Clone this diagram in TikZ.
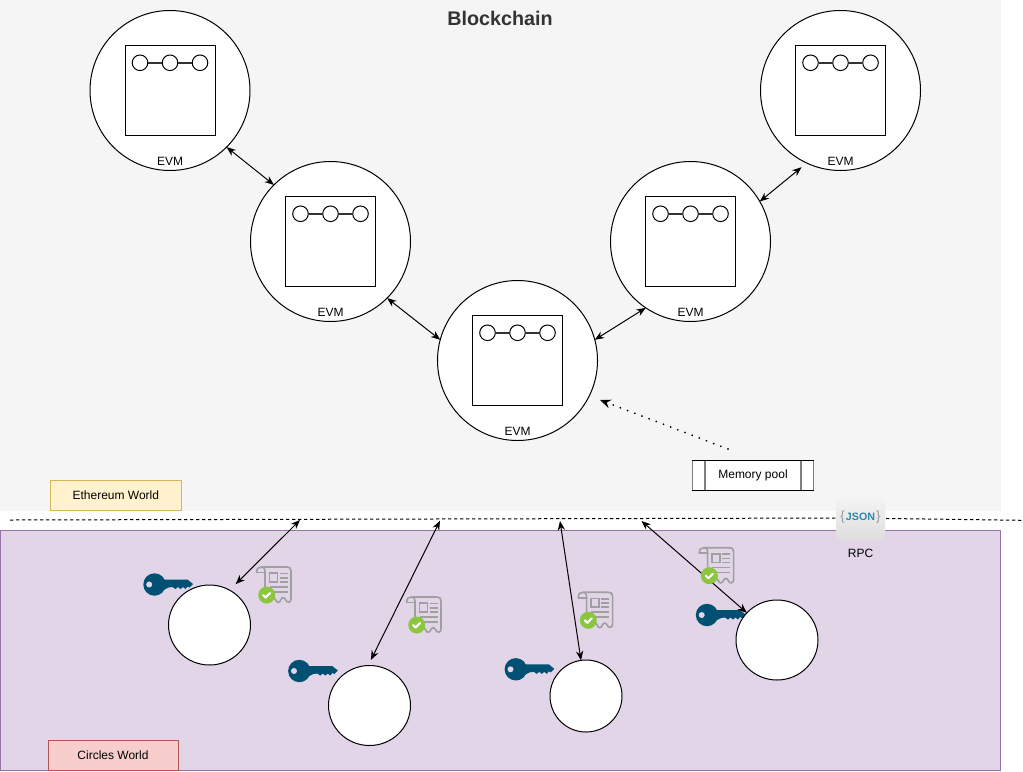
\documentclass[tikz,border=0pt]{standalone}
\usepackage{fontspec}
\setmainfont{Liberation Sans}
\usetikzlibrary{arrows.meta,shadings,shapes.geometric}
\definecolor{chainbg}{HTML}{F5F5F5}
\definecolor{purplebg}{HTML}{E1D5E7}
\definecolor{purpleln}{HTML}{9673A6}
\definecolor{yellowbg}{HTML}{FFF2CC}
\definecolor{yellowln}{HTML}{D6B656}
\definecolor{redbg}{HTML}{F8CECC}
\definecolor{redln}{HTML}{B85450}
\definecolor{keyblue}{HTML}{005073}
\definecolor{okgreen}{HTML}{8CC63F}
\definecolor{rcptgray}{HTML}{A0A0A0}
\definecolor{jsonteal}{HTML}{2E86A8}
\tikzset{
 x=0.75pt,y=-0.75pt,
 lbl/.style={font=\fontsize{9}{11}\selectfont,inner sep=0pt,text=black},
 evmcircle/.style={circle,draw=black,fill=white,line width=0.75pt,minimum size=120pt,inner sep=0pt,outer sep=0pt},
 evmsquare/.style={rectangle,draw=black,fill=white,line width=0.75pt,minimum size=67.5pt,inner sep=0pt,outer sep=0pt},
 chainbead/.style={circle,draw=black,fill=white,line width=0.75pt,minimum size=11.7pt,inner sep=0pt,outer sep=0pt},
 beadlink/.style={draw=black!80,line width=1.2pt},
 world/.style={rectangle,line width=0.7pt,inner sep=0pt,outer sep=0pt},
 usercircle/.style={ellipse,draw=black,fill=white,line width=0.75pt,inner sep=0pt,outer sep=0pt},
 link/.style={draw=black,line width=0.75pt,{Stealth[length=7pt,width=5.5pt]}-{Stealth[length=7pt,width=5.5pt]}},
 oneway/.style={draw=black,line width=1.5pt,line cap=round,dash pattern=on 0.01pt off 5.75pt,-{Stealth[length=8pt,width=6.5pt]}},
 poolbar/.style={draw=black!50,line width=1pt,shorten >=0.38pt,shorten <=0.38pt},
}
\newcommand{\evmnode}[3]{%
 \node[evmcircle] (#1) at (#2,#3) {};
 \node[evmsquare] (#1sq) at (#2,#3) {};
 \node[chainbead] (#1a) at ([xshift=-22.5pt,yshift=20.8pt]#1.center) {};
 \node[chainbead] (#1b) at ([yshift=20.8pt]#1.center) {};
 \node[chainbead] (#1c) at ([xshift=22.5pt,yshift=20.8pt]#1.center) {};
 \draw[beadlink] (#1a) -- (#1b);
 \draw[beadlink] (#1b) -- (#1c);
 \node[lbl] (#1lbl) at ([yshift=-53pt]#1.center) {EVM};
}
\newcommand{\keyicon}[2]{%
 \begin{scope}[shift={(#1,#2)}]
  \fill[keyblue] (0,0) circle[radius=11.2];
  \fill[keyblue] (8,-5) -- (33,-5) -- (38.5,-0.5) -- (35,3) -- (33,2) -- (31,4.5) -- (28.5,2.5) -- (26,4.5) -- (23.5,2.5) -- (21,4.5) -- (18,2.5) -- (14,3) -- (8,6) -- cycle;
  \fill[purplebg] (-5.3,0) circle[radius=3];
 \end{scope}}
\newcommand{\receipticon}[2]{%
 \begin{scope}[shift={(#1,#2)}]
  \draw[rcptgray,line width=1.25pt,line join=round,line cap=round]
   (-10,-22.5) .. controls (-10,-27) and (-8,-28) .. (-5,-28) -- (20,-28) .. controls (23,-28) and (24.3,-27) .. (24.3,-24) -- (24.3,4)
   .. controls (24.3,8) and (20,8) .. (19,5) .. controls (18,2) and (15,2) .. (14,5) .. controls (13,8) and (10,8) .. (9,5) .. controls (8,2) and (5,2) .. (3,3);
  \draw[rcptgray,line width=1.25pt,line cap=round] (-10,-22.5) -- (-1.7,-22.5);
  \draw[rcptgray,line width=1.25pt] (-5,-28) .. controls (-3,-28) and (-1.7,-27) .. (-1.7,-24) -- (-1.7,-5);
  \draw[rcptgray,line width=1.25pt] (2.7,-21.7) rectangle (10.7,-13.3);
  \draw[rcptgray,line width=1.25pt] (13,-21.5) -- (21,-21.5) (13,-17.2) -- (21,-17.2) (13,-13.2) -- (21,-13.2) (3,-8.3) -- (21,-8.3) (7,-3.3) -- (21,-3.3);
  \fill[okgreen] (0,0) circle[radius=8.5];
  \draw[white,line width=1.6pt,line cap=round,line join=round] (-3.5,0) -- (-1,2.5) -- (3.5,-2);
 \end{scope}}
\begin{document}
\begin{tikzpicture}
\useasboundingbox (0,0) rectangle (1023,771);
\fill[white] (0,0) rectangle (1023,771);
% backgrounds
\node[world,fill=chainbg,minimum width=750.75pt,minimum height=383pt,anchor=north west] (chain) at (0,0) {};
\node[world,fill=purplebg,draw=purpleln,minimum width=750.5pt,minimum height=180pt,anchor=north west] (circles) at (0,530.5) {};
\node[font=\bfseries\fontsize{14.8}{17}\selectfont,text=black!80,inner sep=0pt] (title) at (500,18) {Blockchain};
\node[world,fill=yellowbg,draw=yellowln,minimum width=98pt,minimum height=22.7pt,anchor=north west,font=\fontsize{9}{11}\selectfont] (eth) at (50.5,480.5) {Ethereum World};
\node[world,fill=redbg,draw=redln,minimum width=97.5pt,minimum height=22.5pt,anchor=north west,font=\fontsize{9}{11}\selectfont] (cw) at (48,740.5) {Circles World};
% dashed boundary
\coordinate (dl) at (10,520);
\coordinate (dm) at (850,518);
\coordinate (dr) at (1023,520.3);
\draw[black,line width=0.75pt,dash pattern=on 2.5pt off 2pt] (dl) -- (dm) -- (dr);
% JSON badge
\node[rectangle,rounded corners=4.5pt,top color=black!4,bottom color=black!13,minimum width=36.75pt,minimum height=33.75pt,inner sep=0pt] (json) at (860.5,517.5) {\fontsize{8}{9}\selectfont\textcolor{black!40}{\fontsize{10}{10}\selectfont\{}\hspace{0.8pt}\textcolor{jsonteal}{\bfseries JSON}\hspace{0.8pt}\textcolor{black!40}{\fontsize{10}{10}\selectfont\}}};
\node[lbl] (rpc) at (860.5,553.5) {RPC};
% EVM nodes
\evmnode{evmA}{170}{90.5}
\evmnode{evmB}{330.5}{241.5}
\evmnode{evmC}{517.5}{360.5}
\evmnode{evmD}{690.5}{241.5}
\evmnode{evmE}{840.5}{90.5}
\draw[link] (evmA.-45) -- (evmB.135);
\draw[link] (evmB.-45) -- (evmC.165);
\draw[link] (evmC.15) -- (evmD.-124);
\draw[link,shorten >=5pt] (evmD.30) -- (evmE.-115);
% memory pool
\node[rectangle,draw=black,fill=white,line width=0.75pt,minimum width=90.5pt,minimum height=22.5pt,inner sep=0pt,outer sep=0pt,font=\fontsize{9}{11}\selectfont] (mem) at (753,475.3) {Memory pool};
\draw[poolbar] (mem.north west) -- (mem.south west);
\draw[poolbar] (mem.north east) -- (mem.south east);
\draw[poolbar] ([xshift=9.2pt]mem.north west) -- ([xshift=9.2pt]mem.south west);
\draw[poolbar] ([xshift=-9.2pt]mem.north east) -- ([xshift=-9.2pt]mem.south east);
\coordinate (memout) at (728,449);
\coordinate (evmin) at (600,400);
\draw[oneway] (memout) -- (evmin);
% keys
\keyicon{154.5}{584.5}
\keyicon{299.3}{671}
\keyicon{515.8}{669.3}
\keyicon{707}{615}
% users
\node[usercircle,minimum width=61.5pt,minimum height=60pt] (u1) at (209.5,625) {};
\node[usercircle,minimum width=61.5pt,minimum height=60pt] (u2) at (369.5,705.5) {};
\node[usercircle,minimum width=54pt,minimum height=54pt] (u3) at (586,696) {};
\node[usercircle,minimum width=61.5pt,minimum height=60pt] (u4) at (777,640) {};
% connectors
\coordinate (p1) at (300,520);
\coordinate (p2) at (440,520.7);
\coordinate (p3) at (560,521);
\coordinate (p4) at (641.5,521);
\draw[link,shorten >=6.4pt] (p1) -- (u1.60);
\draw[link,shorten >=4.7pt] (p2) -- (u2.92);
\draw[link] (p3) -- (u3.98);
\draw[link] (p4) -- (u4.138);
% receipts
\receipticon{266.7}{595}
\receipticon{416.7}{625}
\receipticon{588.3}{620.3}
\receipticon{709.3}{575.7}
\end{tikzpicture}
\end{document}
